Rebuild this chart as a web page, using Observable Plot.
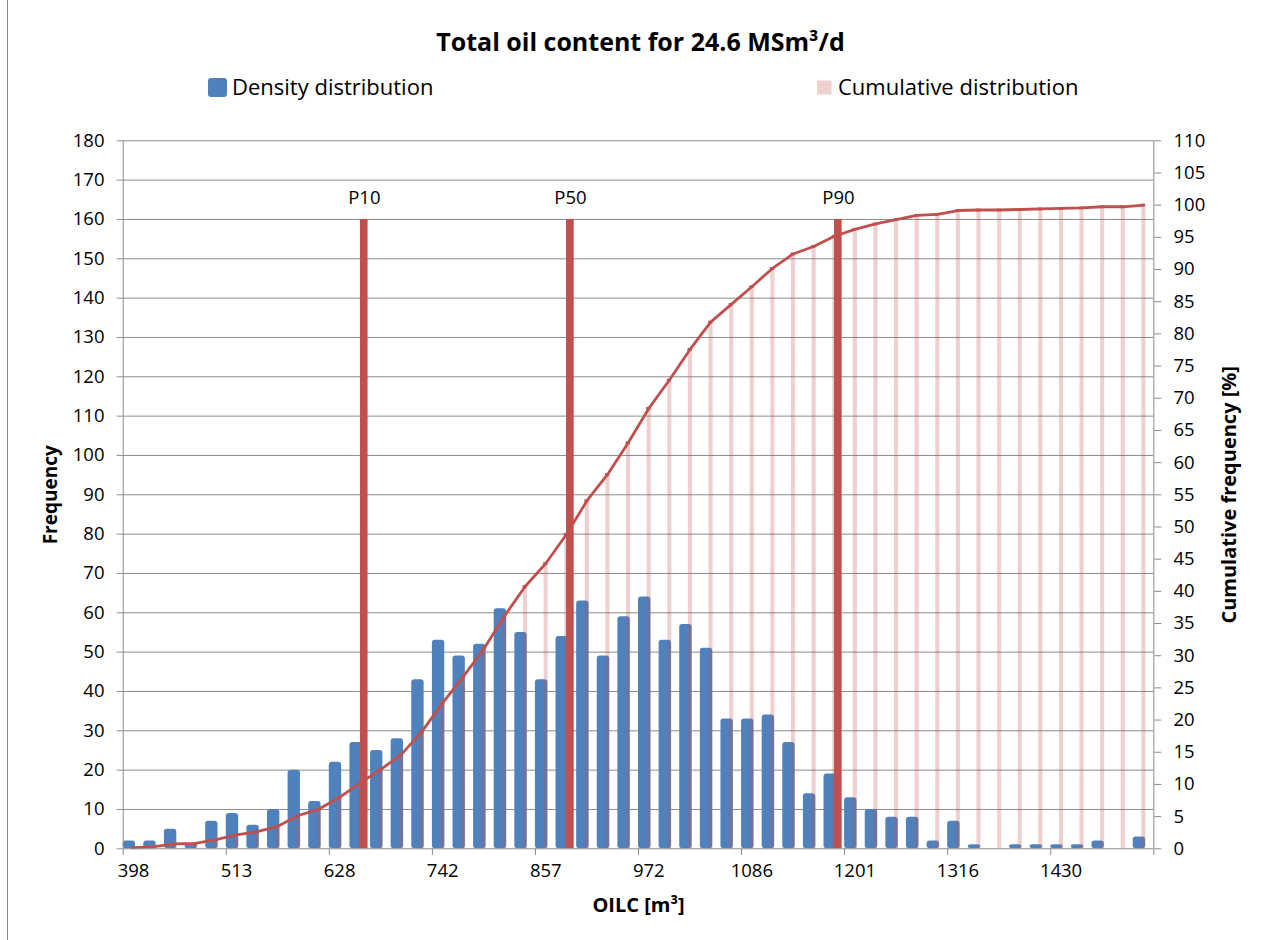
<!DOCTYPE html>
<html>
<head>
<meta charset="utf-8">
<script src="https://cdn.jsdelivr.net/npm/d3@7"></script>
<script src="https://cdn.jsdelivr.net/npm/@observablehq/plot@0.6"></script>
<style>
  html, body { margin: 0; padding: 0; background: #fff; }
  #wrap { position: relative; width: 1266px; height: 940px; overflow: hidden; font-family: "Open Sans", sans-serif; }
  #border { position: absolute; left: 7px; top: 0; width: 0; height: 940px; border-left: 1.5px solid #8a8a8a; }
  svg { display: block; }
</style>
</head>
<body>
<div id="wrap"><div id="border"></div><div id="header"></div><div id="chart"></div></div>
<script>
// ---- data ----
const title = "Total oil content for 24.6 MSm³/d";
const densityLabel = "Density distribution";
const cumulativeLabel = "Cumulative distribution";

// OILC bin labels [m³] (every 5th is shown on the axis)
const categories = ["398","421","444","467","490","513","536","559","582","605",
  "628","651","674","696","719","742","765","788","811","834",
  "857","880","903","926","949","972","995","1018","1040","1063",
  "1086","1109","1132","1155","1178","1201","1224","1247","1270","1293",
  "1316","1339","1361","1384","1407","1430","1453","1476","1499","1522"];

// Frequency (primary axis)
const density = [2,2,5,1,7,9,6,10,20,12,
  22,27,25,28,43,53,49,52,61,55,
  43,54,63,49,59,64,53,57,51,33,
  33,34,27,14,19,13,10,8,8,2,
  7,1,0,1,1,1,1,2,0,3];

// Cumulative frequency [%] (secondary axis)
const cumulative = [0.17,0.33,0.75,0.83,1.42,2.17,2.67,3.5,5.17,6.17,
  8.0,10.25,12.33,14.67,18.25,22.67,26.75,31.08,36.17,40.75,
  44.33,48.83,54.08,58.17,63.08,68.42,72.83,77.58,81.83,84.58,
  87.33,90.17,92.42,93.58,95.17,96.25,97.08,97.75,98.42,98.58,
  99.17,99.25,99.25,99.33,99.42,99.5,99.58,99.75,99.75,100];

// Percentile markers
const pLabels = ["P10","P50","P90"];
const pBins = [11, 21, 34];
const pHeights = [160, 160, 160];

// Axis ticks
const leftTicks = [0,10,20,30,40,50,60,70,80,90,100,110,120,130,140,150,160,170,180];
const rightTicks = [0,5,10,15,20,25,30,35,40,45,50,55,60,65,70,75,80,85,90,95,100,105,110];
const leftMax = 180, rightMax = 110;

// ---- derived tables ----
const k = leftMax / rightMax; // secondary -> primary mapping
const rows = categories.map((c, i) => ({i, c, density: density[i], cum: cumulative[i]}));
const pRows = pLabels.map((label, j) => ({label, i: pBins[j], v: pHeights[j]}));
const xBoundaries = d3.range(0, categories.length + 1, 5);
const xLabelPos = categories.map((c, i) => i).filter(i => i % 5 === 0).map(i => i + 0.5);

const RED = "#c0504d", BLUE = "#4f81bd", GRID = "#8c8c8c";
const FONT = "'Open Sans', sans-serif";
const TICK_FS = 18.5;

// ---- header: title + legend ----
const hdr = d3.select("#header").append("svg").attr("width", 1266).attr("height", 110)
  .style("font-family", FONT);
hdr.append("text").attr("x", 640.5).attr("y", 50.7).attr("text-anchor", "middle")
  .attr("font-size", 25).attr("font-weight", "bold").attr("fill", "#000").text(title);
hdr.append("rect").attr("x", 208).attr("y", 78).attr("width", 19).attr("height", 19).attr("rx", 3).attr("fill", BLUE);
hdr.append("text").attr("x", 232).attr("y", 95).attr("font-size", 22).attr("fill", "#000").text(densityLabel);
hdr.append("rect").attr("x", 817).attr("y", 80.5).attr("width", 14.5).attr("height", 14).attr("fill", RED).attr("fill-opacity", 0.27);
hdr.append("text").attr("x", 838).attr("y", 95).attr("font-size", 22).attr("fill", "#000").text(cumulativeLabel);

// ---- chart ----
const chart = Plot.plot({
  width: 1266,
  height: 830,
  marginTop: 30.3,
  marginBottom: 91.7,
  marginLeft: 122.7,
  marginRight: 112.7,
  style: {fontFamily: FONT, fontSize: TICK_FS + "px", color: "#000", background: "transparent", overflow: "visible"},
  x: {type: "linear", domain: [0, categories.length], axis: null},
  y: {type: "linear", domain: [0, leftMax], axis: null},
  marks: [
    // gridlines
    Plot.ruleY(leftTicks.filter(v => v > 0), {stroke: GRID, strokeWidth: 1}),
    // density bars
    Plot.rect(rows, {x1: d => d.i, x2: d => d.i + 0.6, y1: d => 0, y2: "density", fill: BLUE, rx: 3}),
    // cumulative distribution (thin columns, secondary axis)
    Plot.rect(rows, {x1: d => d.i + 0.42, x2: d => d.i + 0.62, y1: d => 0, y2: d => d.cum * k, fill: RED, fillOpacity: 0.27}),
    // percentile bars
    Plot.rect(pRows, {x1: d => d.i + 0.51, x2: d => d.i + 0.88, y1: d => 0, y2: "v", fill: RED}),
    // cumulative line
    Plot.line(rows, {x: d => d.i + 0.5, y: d => d.cum * k, stroke: RED, strokeWidth: 2.8}),
    Plot.ruleY(rows, {y: d => d.cum * k, x1: d => d.i + 0.4, x2: d => d.i + 0.6, stroke: RED, strokeWidth: 2.8}),
    // percentile labels
    Plot.text(pRows, {x: d => d.i + 0.7, y: "v", text: "label", dy: -21, fontSize: TICK_FS, fill: "#000"}),
    // axis lines
    Plot.ruleX([0, categories.length], {stroke: GRID, strokeWidth: 1}),
    Plot.ruleY([0], {stroke: GRID, strokeWidth: 1}),
    // left axis
    Plot.axisY(leftTicks, {anchor: "left", tickSize: 6, tickPadding: 12.7, stroke: GRID, fill: "#000", label: null, fontSize: TICK_FS}),
    // right axis (secondary, %)
    Plot.axisY(rightTicks.map(v => v * k), {anchor: "right", tickSize: 7, tickPadding: 12.7, stroke: GRID, fill: "#000", label: null, fontSize: TICK_FS,
      tickFormat: v => String(Math.round(v / k))}),
    // x axis tick marks at bin boundaries
    Plot.axisX(xBoundaries, {anchor: "bottom", tickSize: 6.7, stroke: GRID, tickFormat: () => "", label: null}),
    // x axis labels at bin centres
    Plot.axisX(xLabelPos, {anchor: "bottom", tickSize: 0, tickPadding: 15.5, fill: "#000", label: null, fontSize: TICK_FS,
      tickFormat: v => categories[Math.floor(v)]}),
    // axis titles
    Plot.text(["Frequency"], {frameAnchor: "left", dx: -72.7, rotate: -90, textAnchor: "middle", lineAnchor: "middle",
      fontWeight: "bold", fontSize: 19, fill: "#000"}),
    Plot.text(["Cumulative frequency [%]"], {frameAnchor: "right", dx: 76, rotate: -90, textAnchor: "middle", lineAnchor: "middle",
      fontWeight: "bold", fontSize: 20, fill: "#000"}),
    Plot.text(["OILC [m³]"], {frameAnchor: "bottom", dy: 56.7, textAnchor: "middle", lineAnchor: "middle",
      fontWeight: "bold", fontSize: 20, fill: "#000"})
  ]
});
document.getElementById("chart").appendChild(chart);
</script>
</body>
</html>
